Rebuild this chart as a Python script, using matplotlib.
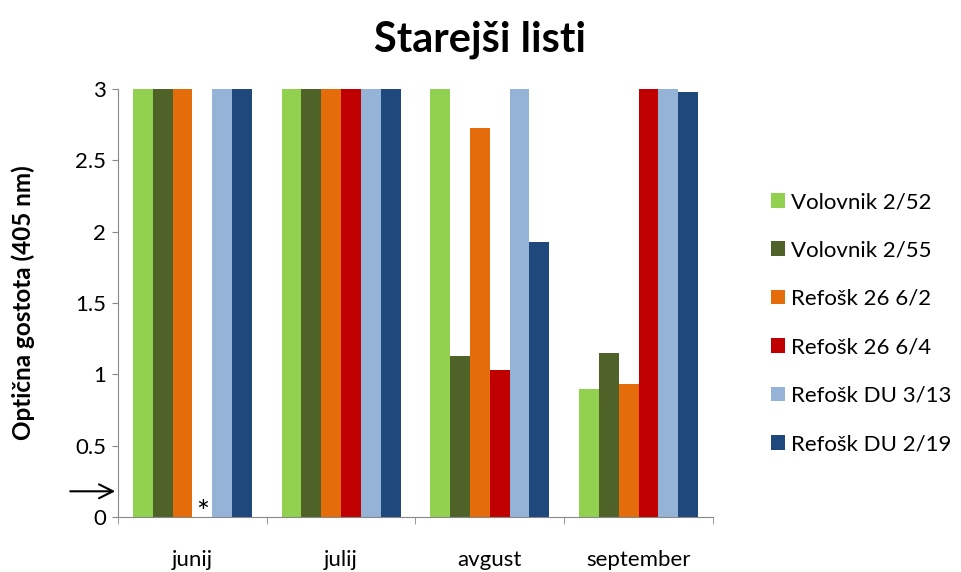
import numpy as np
import matplotlib.pyplot as plt

# Podatki
months = ["junij", "julij", "avgust", "september"]
series = ["Volovnik 2/52", "Volovnik 2/55", "Refošk 26 6/2",
          "Refošk 26 6/4", "Refošk DU 3/13", "Refošk DU 2/19"]
colors = ["#92D050", "#4F6228", "#E46C0A", "#C00000", "#95B3D7", "#1F497D"]

volovnik_252 = [3.0, 3.0, 3.0, 0.90]
volovnik_255 = [3.0, 3.0, 1.13, 1.15]
refosk_262 = [3.0, 3.0, 2.73, 0.93]
refosk_264 = [0.0, 3.0, 1.03, 3.0]
refosk_du313 = [3.0, 3.0, 3.0, 3.0]
refosk_du219 = [3.0, 3.0, 1.93, 2.98]
values = [volovnik_252, volovnik_255, refosk_262, refosk_264, refosk_du313, refosk_du219]

plt.rcParams['font.family'] = ['Lato', 'DejaVu Sans']

fig = plt.figure(figsize=(9.61, 5.72), dpi=100)
ax = fig.add_axes([0.1228, 0.0962, 0.619, 0.748])

x = np.arange(len(months))
w = 1 / 7.5
for i, (name, vals) in enumerate(zip(series, values)):
    ax.bar(x + (i - 2.5) * w, vals, width=w, color=colors[i], label=name)

ax.set_xlim(-0.5, len(months) - 0.5)
ax.set_ylim(0, 3)
ax.set_yticks([0, 0.5, 1, 1.5, 2, 2.5, 3])
ax.set_yticklabels(["0", "0.5", "1", "1.5", "2", "2.5", "3"])
ax.set_xticks(x)
ax.set_xticklabels(months)
ax.set_xticks(np.arange(len(months) + 1) - 0.5, minor=True)
ax.tick_params(axis='x', which='major', length=0, pad=24, labelsize=16)
ax.tick_params(axis='x', which='minor', length=5, color='#888888', direction='out')
ax.tick_params(axis='y', length=4.5, color='#888888', labelsize=16, pad=4)
for s in ['top', 'right']:
    ax.spines[s].set_visible(False)
for s in ['left', 'bottom']:
    ax.spines[s].set_color('#888888')

ax.set_ylabel("Optična gostota (405 nm)", fontsize=17.5, fontweight='bold')
ax.yaxis.set_label_coords(-0.14, 0.5)
fig.suptitle("Starejši listi", fontsize=30, fontweight='bold', y=0.965)

# puščica in zvezdica
ax.annotate("", xy=(-0.5, 0.18), xytext=(-0.84, 0.18), xycoords='data',
            arrowprops=dict(arrowstyle='->', color='black', lw=1.5, mutation_scale=25),
            annotation_clip=False)
ax.text(0.5 * w, 0.03, "*", fontsize=22, ha='center', va='center')

ax.legend(loc='center left', bbox_to_anchor=(1.097, 0.453), frameon=False,
          fontsize=16, handlelength=0.64, handleheight=0.64, labelspacing=1.28,
          handletextpad=0.3, borderpad=0, borderaxespad=0)

fig.savefig("out.png", dpi=100)
